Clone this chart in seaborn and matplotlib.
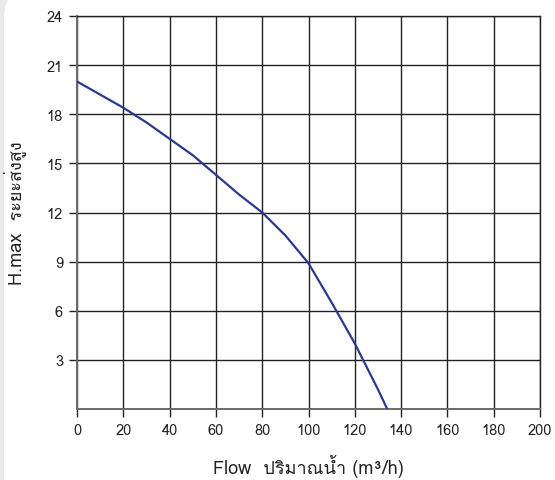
import numpy as np
import pandas as pd
import seaborn as sns
import matplotlib.pyplot as plt
from matplotlib import font_manager
from matplotlib.patches import FancyBboxPatch
from fontTools.ttLib import TTFont

# pump curve
flow = [0, 10, 20, 30, 40, 50, 60, 70, 80, 90, 100, 110, 120, 130, 134]
head = [20.0, 19.2, 18.4, 17.5, 16.5, 15.5, 14.3, 13.1, 12.0, 10.6, 8.9, 6.5, 4.0, 1.2, 0.0]
x_ticks = [0, 20, 40, 60, 80, 100, 120, 140, 160, 180, 200]
y_ticks = [3, 6, 9, 12, 15, 18, 21, 24]
x_label = 'Flow  ปริมาณน้ำ (m³/h)'
y_label = 'H.max  ระยะส่งสูง'


def thai_family():
    # first installed family that has Thai glyphs
    for f in font_manager.fontManager.ttflist:
        try:
            cmap = TTFont(f.fname, fontNumber=0, lazy=True).getBestCmap()
        except Exception:
            continue
        if cmap and 0x0E1B in cmap and 0x0E19 in cmap:
            return f.name
    return 'DejaVu Sans'


df = pd.DataFrame({'flow': flow, 'head': head})

sns.set_style('white')
thai = thai_family()
plt.rcParams['font.family'] = [thai, 'DejaVu Sans']

fig = plt.figure(figsize=(5.55, 4.81), dpi=100, facecolor='#e9e9e9')
# white card with rounded corners
card = FancyBboxPatch((4, -60), 700, 560, boxstyle='round,pad=0,rounding_size=40',
                      transform=None, facecolor='white', edgecolor='none', zorder=-10)
fig.patches.append(card)

ax = fig.add_axes([77 / 555, 1 - 410 / 481, 463 / 555, 393 / 481])
ax.set_facecolor('none')
sns.lineplot(data=df, x='flow', y='head', ax=ax, color='#2b3990', lw=1.6, zorder=3)

ax.set_xlim(0, 200)
ax.set_ylim(0, 24)
ax.set_xticks(x_ticks)
ax.set_yticks(y_ticks)
ax.grid(True, color='#222222', lw=1.0)
for s in ['top', 'right']:
    ax.spines[s].set_color('#222222')
    ax.spines[s].set_linewidth(1.0)
for s in ['left', 'bottom']:
    ax.spines[s].set_color('#6a6a6a')
    ax.spines[s].set_linewidth(1.4)
ax.tick_params(axis='both', bottom=True, left=True, direction='out', length=6,
               width=1.0, color='#222222', labelsize=10.5, labelcolor='#222222', pad=4)

ax.set_xlabel(x_label, fontsize=13, color='#222222', labelpad=12)
ax.set_ylabel(y_label, fontsize=13, color='#222222', labelpad=14)

fig.savefig('out.png', dpi=100, facecolor=fig.get_facecolor())
